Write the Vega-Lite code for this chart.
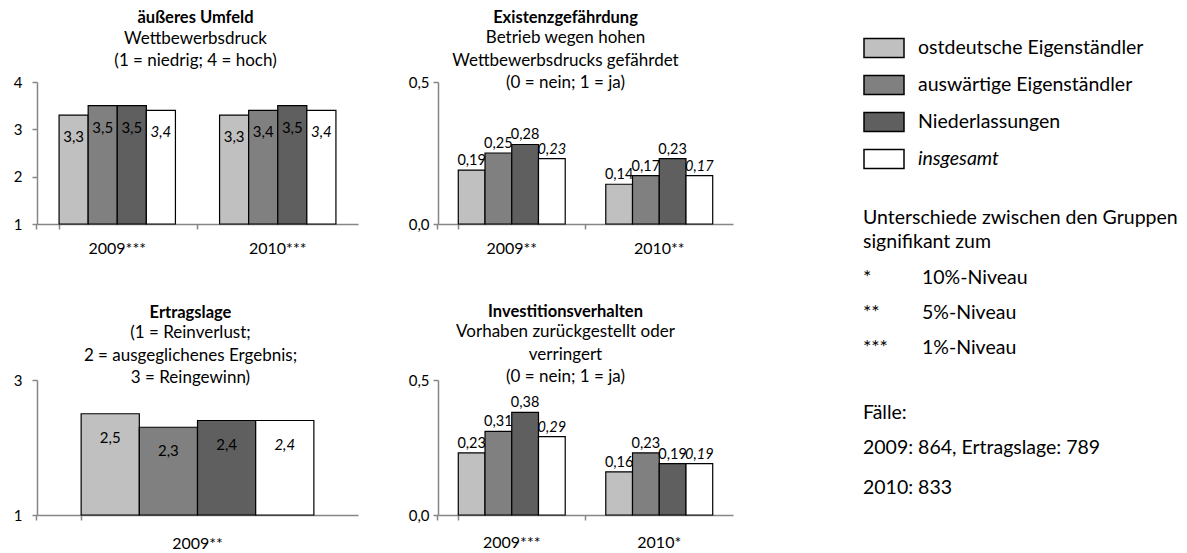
{
  "$schema": "https://vega.github.io/schema/vega-lite/v6.json",
  "padding": {"left": 13, "top": 9, "right": 0, "bottom": 0},
  "background": "white",
  "config": {
    "locale": {"number": {"decimal": ",", "thousands": ".", "grouping": [3], "currency": ["", " €"]}},
    "font": "Lato",
    "view": {"stroke": null},
    "axis": {"domainColor": "#868686", "domainWidth": 1.5, "tickColor": "#868686", "tickWidth": 1.5, "tickSize": 5, "labelColor": "black", "labelFont": "Lato", "grid": false},
    "title": {"font": "Lato", "fontSize": 16.5, "fontWeight": "bold", "color": "black", "anchor": "middle", "frame": "group", "subtitleFont": "Lato", "subtitleFontSize": 17, "subtitleColor": "black", "subtitleLineHeight": 22.5, "subtitlePadding": 4}
  },
  "datasets": {
    "bars": [
      {"panel": "umfeld", "year": "2009***", "group": "ostdeutsche Eigenständler", "value": 3.3},
      {"panel": "umfeld", "year": "2009***", "group": "auswärtige Eigenständler", "value": 3.5},
      {"panel": "umfeld", "year": "2009***", "group": "Niederlassungen", "value": 3.5},
      {"panel": "umfeld", "year": "2009***", "group": "insgesamt", "value": 3.4},
      {"panel": "umfeld", "year": "2010***", "group": "ostdeutsche Eigenständler", "value": 3.3},
      {"panel": "umfeld", "year": "2010***", "group": "auswärtige Eigenständler", "value": 3.4},
      {"panel": "umfeld", "year": "2010***", "group": "Niederlassungen", "value": 3.5},
      {"panel": "umfeld", "year": "2010***", "group": "insgesamt", "value": 3.4},
      {"panel": "existenz", "year": "2009**", "group": "ostdeutsche Eigenständler", "value": 0.19},
      {"panel": "existenz", "year": "2009**", "group": "auswärtige Eigenständler", "value": 0.25},
      {"panel": "existenz", "year": "2009**", "group": "Niederlassungen", "value": 0.28},
      {"panel": "existenz", "year": "2009**", "group": "insgesamt", "value": 0.23},
      {"panel": "existenz", "year": "2010**", "group": "ostdeutsche Eigenständler", "value": 0.14},
      {"panel": "existenz", "year": "2010**", "group": "auswärtige Eigenständler", "value": 0.17},
      {"panel": "existenz", "year": "2010**", "group": "Niederlassungen", "value": 0.23},
      {"panel": "existenz", "year": "2010**", "group": "insgesamt", "value": 0.17},
      {"panel": "ertrag", "year": "2009**", "group": "ostdeutsche Eigenständler", "value": 2.5},
      {"panel": "ertrag", "year": "2009**", "group": "auswärtige Eigenständler", "value": 2.3},
      {"panel": "ertrag", "year": "2009**", "group": "Niederlassungen", "value": 2.4},
      {"panel": "ertrag", "year": "2009**", "group": "insgesamt", "value": 2.4},
      {"panel": "invest", "year": "2009***", "group": "ostdeutsche Eigenständler", "value": 0.23},
      {"panel": "invest", "year": "2009***", "group": "auswärtige Eigenständler", "value": 0.31},
      {"panel": "invest", "year": "2009***", "group": "Niederlassungen", "value": 0.38},
      {"panel": "invest", "year": "2009***", "group": "insgesamt", "value": 0.29},
      {"panel": "invest", "year": "2010*", "group": "ostdeutsche Eigenständler", "value": 0.16},
      {"panel": "invest", "year": "2010*", "group": "auswärtige Eigenständler", "value": 0.23},
      {"panel": "invest", "year": "2010*", "group": "Niederlassungen", "value": 0.19},
      {"panel": "invest", "year": "2010*", "group": "insgesamt", "value": 0.19}
    ],
    "notes": [
      {"line": 0, "col": "key", "text": "Unterschiede zwischen den Gruppen\nsignifikant zum"},
      {"line": 12, "col": "key", "text": "*"},
      {"line": 12, "col": "label", "text": "10%-Niveau"},
      {"line": 19, "col": "key", "text": "**"},
      {"line": 19, "col": "label", "text": "5%-Niveau"},
      {"line": 26, "col": "key", "text": "***"},
      {"line": 26, "col": "label", "text": "1%-Niveau"},
      {"line": 39, "col": "key", "text": "Fälle:"},
      {"line": 46, "col": "key", "text": "2009: 864, Ertragslage: 789"},
      {"line": 54, "col": "key", "text": "2010: 833"}
    ]
  },
  "concat": [
    {
      "width": 321, "height": 142,
      "title": {"text": "äußeres Umfeld", "subtitle": ["Wettbewerbsdruck", "(1 = niedrig; 4 = hoch)"], "offset": 6, "dx": -2},
      "data": {"name": "bars"},
      "transform": [{"filter": "datum.panel === 'umfeld'"}],
      "encoding": {
        "x": {"field": "year", "type": "nominal", "sort": null, "scale": {"paddingInner": 0.275, "paddingOuter": 0.1375}, "axis": {"title": null, "labelAngle": 0, "labelFontSize": 16, "labelPadding": 11, "bandPosition": -0.19, "tickExtra": true}},
        "xOffset": {"field": "group", "type": "nominal", "sort": ["ostdeutsche Eigenständler", "auswärtige Eigenständler", "Niederlassungen", "insgesamt"]},
        "y": {"field": "value", "type": "quantitative", "scale": {"domain": [1, 4], "zero": false, "nice": false}, "axis": {"title": null, "values": [1, 2, 3, 4], "format": "d", "labelFontSize": 15, "labelPadding": 10}}
      },
      "layer": [
        {"mark": {"type": "bar", "stroke": "black", "strokeWidth": 1.2},
         "encoding": {"y2": {"datum": 1}, "fill": {"field": "group", "type": "nominal", "title": null, "scale": {"domain": ["ostdeutsche Eigenständler", "auswärtige Eigenständler", "Niederlassungen", "insgesamt"], "range": ["#c0c0c0", "#808080", "#5f5f5f", "#ffffff"]},
           "legend": {"title": null, "orient": "none", "legendX": 826, "legendY": -55, "symbolType": "M-1,-0.475H1V0.475H-1Z", "symbolSize": 1600, "symbolStrokeColor": "black", "symbolStrokeWidth": 1.5, "symbolOpacity": 1, "labelFont": "Lato", "labelFontSize": 19.5, "labelColor": "black", "labelOffset": 13, "rowPadding": 3, "padding": 0, "labelLimit": 400, "encode": {"labels": {"update": {"fontStyle": {"signal": "datum.label === 'insgesamt' ? 'italic' : 'normal'"}}}}}}}},
        {"transform": [{"filter": "datum.group !== 'insgesamt'"}],
         "mark": {"type": "text", "baseline": "middle", "dy": 22, "fontSize": 15, "fontStyle": "normal"},
         "encoding": {"text": {"field": "value", "type": "quantitative", "format": ".1f"}}},
        {"transform": [{"filter": "datum.group === 'insgesamt'"}],
         "mark": {"type": "text", "baseline": "middle", "dy": 22, "fontSize": 15, "fontStyle": "italic"},
         "encoding": {"text": {"field": "value", "type": "quantitative", "format": ".1f"}}}
      ]
    },
    {
      "width": 295, "height": 142,
      "title": {"text": "Existenzgefährdung", "subtitle": ["Betrieb wegen hohen", "Wettbewerbsdrucks gefährdet", "(0 = nein; 1 = ja)"], "offset": -16, "dx": -20},
      "data": {"name": "bars"},
      "transform": [{"filter": "datum.panel === 'existenz'"}],
      "encoding": {
        "x": {"field": "year", "type": "nominal", "sort": null, "scale": {"paddingInner": 0.275, "paddingOuter": 0.1375}, "axis": {"title": null, "labelAngle": 0, "labelFontSize": 16, "labelPadding": 11, "bandPosition": -0.19, "tickExtra": true}},
        "xOffset": {"field": "group", "type": "nominal", "sort": ["ostdeutsche Eigenständler", "auswärtige Eigenständler", "Niederlassungen", "insgesamt"]},
        "y": {"field": "value", "type": "quantitative", "scale": {"domain": [0, 0.5], "nice": false}, "axis": {"title": null, "values": [0, 0.5], "format": ".1f", "labelFontSize": 15, "labelPadding": 4}}
      },
      "layer": [
        {"mark": {"type": "bar", "stroke": "black", "strokeWidth": 1.2},
         "encoding": {"fill": {"field": "group", "type": "nominal", "title": null, "scale": {"domain": ["ostdeutsche Eigenständler", "auswärtige Eigenständler", "Niederlassungen", "insgesamt"], "range": ["#c0c0c0", "#808080", "#5f5f5f", "#ffffff"]},
           "legend": {"title": null, "orient": "none", "legendX": 826, "legendY": -55, "symbolType": "M-1,-0.475H1V0.475H-1Z", "symbolSize": 1600, "symbolStrokeColor": "black", "symbolStrokeWidth": 1.5, "symbolOpacity": 1, "labelFont": "Lato", "labelFontSize": 19.5, "labelColor": "black", "labelOffset": 13, "rowPadding": 3, "padding": 0, "labelLimit": 400, "encode": {"labels": {"update": {"fontStyle": {"signal": "datum.label === 'insgesamt' ? 'italic' : 'normal'"}}}}}}}},
        {"transform": [{"filter": "datum.group !== 'insgesamt'"}],
         "mark": {"type": "text", "baseline": "middle", "dy": -9, "fontSize": 14.5, "fontStyle": "normal"},
         "encoding": {"text": {"field": "value", "type": "quantitative", "format": ".2f"}}},
        {"transform": [{"filter": "datum.group === 'insgesamt'"}],
         "mark": {"type": "text", "baseline": "middle", "dy": -9, "fontSize": 14.5, "fontStyle": "italic"},
         "encoding": {"text": {"field": "value", "type": "quantitative", "format": ".2f"}}}
      ]
    },
    {
      "width": 109, "height": 142,
      "data": {"name": "notes"},
      "mark": {"type": "text", "align": "left", "baseline": "middle", "fontSize": 19.5, "font": "Lato", "color": "black", "lineBreak": "\n", "lineHeight": 24},
      "encoding": {
        "x": {"field": "col", "type": "nominal", "scale": {"type": "point", "domain": ["key", "label"], "padding": 0.4237, "align": 1}, "axis": null},
        "y": {"field": "line", "type": "quantitative", "scale": {"domain": [-27.2, 1.2], "reverse": true, "zero": false, "nice": false}, "axis": null},
        "text": {"field": "text"}
      }
    },
    {
      "width": 321, "height": 135,
      "title": {"text": "Ertragslage", "subtitle": ["(1 = Reinverlust;", "2 = ausgeglichenes Ergebnis;", "3 = Reingewinn)"], "offset": -13, "dx": -7},
      "data": {"name": "bars"},
      "transform": [{"filter": "datum.panel === 'ertrag'"}],
      "encoding": {
        "x": {"field": "year", "type": "nominal", "sort": null, "scale": {"paddingInner": 0.275, "paddingOuter": 0.1375}, "axis": {"title": null, "labelAngle": 0, "labelFontSize": 16, "labelPadding": 15, "bandPosition": -0.19, "tickExtra": true}},
        "xOffset": {"field": "group", "type": "nominal", "sort": ["ostdeutsche Eigenständler", "auswärtige Eigenständler", "Niederlassungen", "insgesamt"]},
        "y": {"field": "value", "type": "quantitative", "scale": {"domain": [1, 3], "zero": false, "nice": false}, "axis": {"title": null, "values": [1, 2, 3], "format": "d", "labelFontSize": 15, "labelPadding": 10}}
      },
      "layer": [
        {"mark": {"type": "bar", "stroke": "black", "strokeWidth": 1.2},
         "encoding": {"y2": {"datum": 1}, "fill": {"field": "group", "type": "nominal", "title": null, "scale": {"domain": ["ostdeutsche Eigenständler", "auswärtige Eigenständler", "Niederlassungen", "insgesamt"], "range": ["#c0c0c0", "#808080", "#5f5f5f", "#ffffff"]},
           "legend": {"title": null, "orient": "none", "legendX": 826, "legendY": -55, "symbolType": "M-1,-0.475H1V0.475H-1Z", "symbolSize": 1600, "symbolStrokeColor": "black", "symbolStrokeWidth": 1.5, "symbolOpacity": 1, "labelFont": "Lato", "labelFontSize": 19.5, "labelColor": "black", "labelOffset": 13, "rowPadding": 3, "padding": 0, "labelLimit": 400, "encode": {"labels": {"update": {"fontStyle": {"signal": "datum.label === 'insgesamt' ? 'italic' : 'normal'"}}}}}}}},
        {"transform": [{"filter": "datum.group !== 'insgesamt'"}],
         "mark": {"type": "text", "baseline": "middle", "dy": 24, "fontSize": 15, "fontStyle": "normal"},
         "encoding": {"text": {"field": "value", "type": "quantitative", "format": ".1f"}}},
        {"transform": [{"filter": "datum.group === 'insgesamt'"}],
         "mark": {"type": "text", "baseline": "middle", "dy": 24, "fontSize": 15, "fontStyle": "italic"},
         "encoding": {"text": {"field": "value", "type": "quantitative", "format": ".1f"}}}
      ]
    },
    {
      "width": 295, "height": 135,
      "title": {"text": "Investitionsverhalten", "subtitle": ["Vorhaben zurückgestellt oder", "verringert", "(0 = nein; 1 = ja)"], "offset": -12, "dx": -20},
      "data": {"name": "bars"},
      "transform": [{"filter": "datum.panel === 'invest'"}],
      "encoding": {
        "x": {"field": "year", "type": "nominal", "sort": null, "scale": {"paddingInner": 0.275, "paddingOuter": 0.1375}, "axis": {"title": null, "labelAngle": 0, "labelFontSize": 16, "labelPadding": 14, "bandPosition": -0.19, "tickExtra": true}},
        "xOffset": {"field": "group", "type": "nominal", "sort": ["ostdeutsche Eigenständler", "auswärtige Eigenständler", "Niederlassungen", "insgesamt"]},
        "y": {"field": "value", "type": "quantitative", "scale": {"domain": [0, 0.5], "nice": false}, "axis": {"title": null, "values": [0, 0.5], "format": ".1f", "labelFontSize": 15, "labelPadding": 4}}
      },
      "layer": [
        {"mark": {"type": "bar", "stroke": "black", "strokeWidth": 1.2},
         "encoding": {"fill": {"field": "group", "type": "nominal", "title": null, "scale": {"domain": ["ostdeutsche Eigenständler", "auswärtige Eigenständler", "Niederlassungen", "insgesamt"], "range": ["#c0c0c0", "#808080", "#5f5f5f", "#ffffff"]},
           "legend": {"title": null, "orient": "none", "legendX": 826, "legendY": -55, "symbolType": "M-1,-0.475H1V0.475H-1Z", "symbolSize": 1600, "symbolStrokeColor": "black", "symbolStrokeWidth": 1.5, "symbolOpacity": 1, "labelFont": "Lato", "labelFontSize": 19.5, "labelColor": "black", "labelOffset": 13, "rowPadding": 3, "padding": 0, "labelLimit": 400, "encode": {"labels": {"update": {"fontStyle": {"signal": "datum.label === 'insgesamt' ? 'italic' : 'normal'"}}}}}}}},
        {"transform": [{"filter": "datum.group !== 'insgesamt'"}],
         "mark": {"type": "text", "baseline": "middle", "dy": -9, "fontSize": 14.5, "fontStyle": "normal"},
         "encoding": {"text": {"field": "value", "type": "quantitative", "format": ".2f"}}},
        {"transform": [{"filter": "datum.group === 'insgesamt'"}],
         "mark": {"type": "text", "baseline": "middle", "dy": -9, "fontSize": 14.5, "fontStyle": "italic"},
         "encoding": {"text": {"field": "value", "type": "quantitative", "format": ".2f"}}}
      ]
    }
  ],
  "columns": 3,
  "spacing": {"row": 156, "column": 80},
  "bounds": "flush",
  "align": "each",
  "resolve": {"scale": {"xOffset": "independent"}}
}
